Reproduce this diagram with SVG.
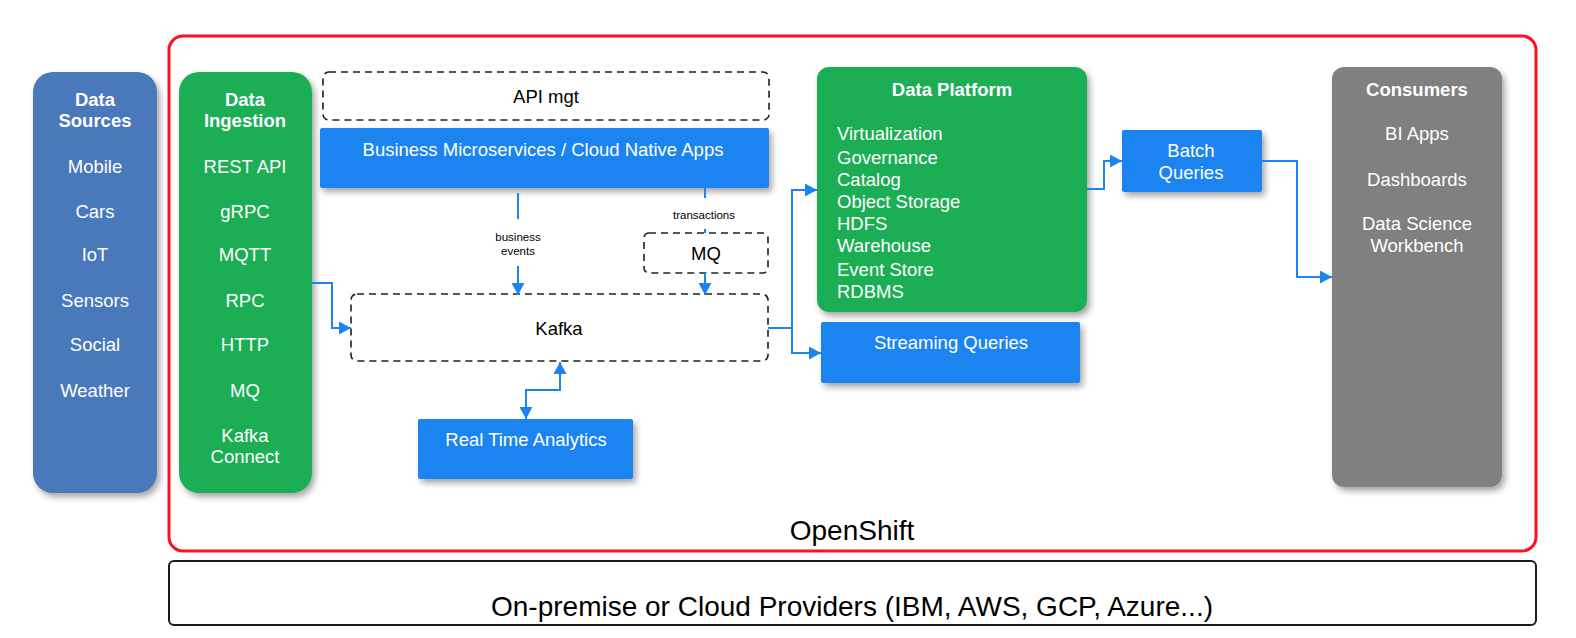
<svg xmlns="http://www.w3.org/2000/svg" width="1576" height="638" viewBox="0 0 1576 638">
<style>
text{font-family:"Liberation Sans",Arial,Helvetica,sans-serif;}
.w{fill:#fff;font-size:18.5px;}
.wb{fill:#fff;font-size:18.5px;font-weight:bold;}
.k{fill:#000;font-size:18.5px;}
.s{fill:#000;font-size:11.5px;}
.big{fill:#000;font-size:28px;}
.c{text-anchor:middle;}
.dash{fill:#fff;stroke:#1c1f26;stroke-width:1.6;stroke-dasharray:7 5;}
.conn{fill:none;stroke:#1a84f0;stroke-width:2;}
.sh{filter:url(#shadow);}
</style>
<defs>
<filter id="shadow" x="-20%" y="-20%" width="140%" height="140%">
<feDropShadow dx="3" dy="4" stdDeviation="3" flood-color="#000" flood-opacity="0.35"/>
</filter>
<marker id="arr" markerUnits="userSpaceOnUse" markerWidth="13" markerHeight="13" refX="12" refY="6.5" orient="auto-start-reverse">
<path d="M0,0 L12,6.5 L0,13 z" fill="#1a84f0"/>
</marker>
</defs>
<rect width="1576" height="638" fill="#fff"/>

<g id="openshift">
<rect x="169" y="36" width="1367" height="515" rx="14" fill="none" stroke="#ff1020" stroke-width="3"/>
<text class="big c" x="852" y="540">OpenShift</text>
</g>
<g id="providers">
<rect x="169" y="561" width="1367" height="64" rx="5" fill="none" stroke="#1a1a1a" stroke-width="2"/>
<text class="big c" x="852" y="616">On-premise or Cloud Providers (IBM, AWS, GCP, Azure...)</text>
</g>

<g id="data-sources">
<rect class="sh" x="33" y="72" width="124" height="421" rx="20" fill="#4878bb"/>
<text class="wb c" x="95" y="106">Data</text>
<text class="wb c" x="95" y="127">Sources</text>
<text class="w c" x="95" y="173">Mobile</text>
<text class="w c" x="95" y="217.5">Cars</text>
<text class="w c" x="95" y="261">IoT</text>
<text class="w c" x="95" y="307">Sensors</text>
<text class="w c" x="95" y="351">Social</text>
<text class="w c" x="95" y="397">Weather</text>
</g>

<g id="data-ingestion">
<rect class="sh" x="179" y="72" width="133" height="421" rx="20" fill="#1eae55"/>
<text class="wb c" x="245" y="106">Data</text>
<text class="wb c" x="245" y="127">Ingestion</text>
<text class="w c" x="245" y="173">REST API</text>
<text class="w c" x="245" y="217.5">gRPC</text>
<text class="w c" x="245" y="261">MQTT</text>
<text class="w c" x="245" y="307">RPC</text>
<text class="w c" x="245" y="351">HTTP</text>
<text class="w c" x="245" y="396.5">MQ</text>
<text class="w c" x="245" y="441.5">Kafka</text>
<text class="w c" x="245" y="463">Connect</text>
</g>

<g id="api-mgt">
<rect class="dash" x="323" y="72" width="446" height="48" rx="6"/>
<text class="k c" x="546" y="103">API mgt</text>
</g>

<g id="business-apps">
<rect class="sh" x="320" y="128" width="449" height="60" rx="2" fill="#1a84f0"/>
<text class="w c" x="543" y="155.5">Business Microservices / Cloud Native Apps</text>
</g>

<g id="mq">
<rect class="dash" x="644" y="233" width="124" height="40" rx="5"/>
<text class="k c" x="706" y="260">MQ</text>
</g>

<g id="kafka">
<rect class="dash" x="351" y="294" width="417" height="67" rx="6"/>
<text class="k c" x="559" y="335">Kafka</text>
</g>

<g id="real-time-analytics">
<rect class="sh" x="418" y="419" width="215" height="60" rx="2" fill="#1a84f0"/>
<text class="w c" x="526" y="445.5">Real Time Analytics</text>
</g>

<g id="data-platform">
<rect class="sh" x="817" y="67" width="270" height="245" rx="12" fill="#1eae55"/>
<text class="wb c" x="952" y="96">Data Platform</text>
<text class="w" x="837" y="140">Virtualization</text>
<text class="w" x="837" y="164">Governance</text>
<text class="w" x="837" y="186">Catalog</text>
<text class="w" x="837" y="208">Object Storage</text>
<text class="w" x="837" y="230">HDFS</text>
<text class="w" x="837" y="252">Warehouse</text>
<text class="w" x="837" y="276">Event Store</text>
<text class="w" x="837" y="297.5">RDBMS</text>
</g>

<g id="streaming-queries">
<rect class="sh" x="821" y="322" width="259" height="61" rx="2" fill="#1a84f0"/>
<text class="w c" x="951" y="349">Streaming Queries</text>
</g>

<g id="batch-queries">
<rect class="sh" x="1122" y="130" width="140" height="62" rx="2" fill="#1a84f0"/>
<text class="w c" x="1191" y="157">Batch</text>
<text class="w c" x="1191" y="179">Queries</text>
</g>

<g id="consumers">
<rect class="sh" x="1332" y="67" width="170" height="420" rx="12" fill="#808080"/>
<text class="wb c" x="1417" y="96">Consumers</text>
<text class="w c" x="1417" y="140">BI Apps</text>
<text class="w c" x="1417" y="185.5">Dashboards</text>
<text class="w c" x="1417" y="230">Data Science</text>
<text class="w c" x="1417" y="251.5">Workbench</text>
</g>

<g id="connectors">
<path class="conn" d="M312,283 H332 V328 H351" marker-end="url(#arr)"/>
<path class="conn" d="M518,193 V219"/>
<path class="conn" d="M518,266 V295" marker-end="url(#arr)"/>
<text class="s c" x="518" y="240.5">business</text>
<text class="s c" x="518" y="255">events</text>
<path class="conn" d="M705,188 V198"/>
<path class="conn" d="M705,229 V233"/>
<text class="s c" x="704" y="219">transactions</text>
<path class="conn" d="M705,273 V295" marker-end="url(#arr)"/>
<path class="conn" d="M560,362 V390 H526 V419" marker-start="url(#arr)" marker-end="url(#arr)"/>
<path class="conn" d="M768,328 H792 V190 H817" marker-end="url(#arr)"/>
<path class="conn" d="M792,328 V353 H821" marker-end="url(#arr)"/>
<path class="conn" d="M1087,189 H1104 V161 H1122" marker-end="url(#arr)"/>
<path class="conn" d="M1262,161 H1297 V277 H1332" marker-end="url(#arr)"/>
</g>
</svg>
